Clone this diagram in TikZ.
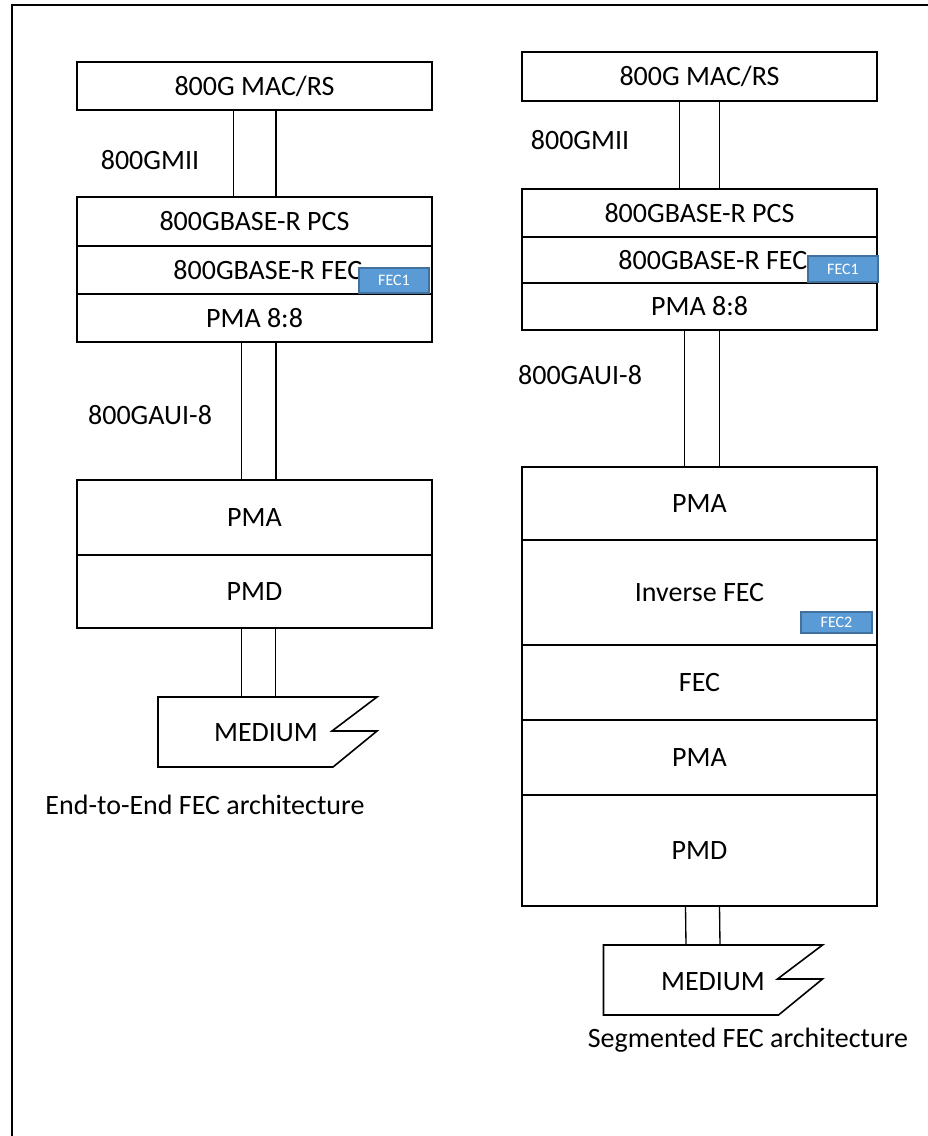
\documentclass[tikz,border=0pt]{standalone}
\usepackage{fontspec}
\setmainfont{Carlito}
\usetikzlibrary{positioning}
\definecolor{tagfill}{HTML}{5B9BD5}
\definecolor{tagborder}{HTML}{41719C}
\tikzset{
    layer/.style={rectangle, draw, line width=1.3pt, inner sep=0pt, outer sep=0pt, text centered, minimum width=266.25pt, font=\fontsize{21}{25}\selectfont},
    tag/.style={rectangle, draw=tagborder, line width=0.8pt, fill=tagfill, text=white, inner sep=0pt, outer sep=0pt, font=\fontsize{12}{14}\selectfont},
    link/.style={line width=1pt},
    labelstyle/.style={font=\fontsize{21}{25}\selectfont},
}
\begin{document}
\begin{tikzpicture}[x=0.75pt, y=-0.75pt]
    \useasboundingbox (0,0) rectangle (928,1136);
    \draw[line width=1.5pt] (928,5) -- (12,5) -- (12,1136);

    % end-to-end
    \node[layer, minimum height=36pt, anchor=north west] (macL) at (77,62) {800G MAC/RS};
    \node[layer, minimum height=36.75pt, anchor=north west] (pcsL) at (77,197) {800GBASE-R PCS};
    \node[layer, minimum height=36pt, below=0pt of pcsL] (fecL) {\hspace*{20pt}800GBASE-R FEC};
    \node[layer, minimum height=36pt, below=0pt of fecL] (pmaL) {PMA 8:8};
    \node[layer, minimum height=56.25pt, anchor=north west] (pmaLL) at (77,480) {PMA};
    \node[layer, minimum height=54.75pt, below=0pt of pmaLL] (pmdL) {PMD};
    \node[tag, minimum width=52.5pt, minimum height=18.75pt, anchor=south east] (fec1L) at (429,293) {FEC1};
    \coordinate (medL) at (254.5,697);
    \node[labelstyle] (mediumL) at (266,733) {MEDIUM};
    \draw[link, line width=1.2pt] (medL) ++(-96.5,0) -- ++(219,0) -- ++(-45,34) -- ++(45,0) -- ++(-44,36) -- ++(-175,0) -- cycle;

    \node[labelstyle] (miiL) at (150,160) {800GMII};
    \node[labelstyle] (auiL) at (150,415) {800GAUI-8};
    \node[labelstyle] (capL) at (205,805) {End-to-End FEC architecture};

    \foreach \dx in {-16pt,16pt}
        \draw[link] ([xshift=\dx]macL.south) -- ([xshift=\dx]pcsL.north);
    \foreach \dx in {-10pt,16pt}
        \draw[link] ([xshift=\dx]pmaL.south) -- ([xshift=\dx]pmaLL.north);
    \foreach \dx in {-10pt,15.5pt}
        \draw[link] ([xshift=\dx]pmdL.south) -- ([xshift=\dx]medL);

    % segmented
    \node[layer, minimum height=36.75pt, anchor=north west] (macR) at (522,52) {800G MAC/RS};
    \node[layer, minimum height=36pt, anchor=north west] (pcsR) at (522,189) {800GBASE-R PCS};
    \node[layer, minimum height=34.5pt, below=0pt of pcsR] (fecR) {\hspace*{20pt}800GBASE-R FEC};
    \node[layer, minimum height=35.25pt, below=0pt of fecR] (pmaR) {PMA 8:8};
    \node[layer, minimum height=54.75pt, anchor=north west] (pmaRa) at (522,467) {PMA};
    \node[layer, minimum height=78.75pt, below=0pt of pmaRa] (invR) {Inverse FEC};
    \node[layer, minimum height=56.25pt, below=0pt of invR] (fecRb) {FEC};
    \node[layer, minimum height=56.25pt, below=0pt of fecRb] (pmaRc) {PMA};
    \node[layer, minimum height=83.25pt, below=0pt of pmaRc] (pmdR) {PMD};
    \node[tag, minimum width=52.5pt, minimum height=19.5pt, anchor=south east] (fec1R) at (878,282) {FEC1};
    \node[tag, minimum width=53.25pt, minimum height=15.75pt, anchor=south east] (fec2R) at (872,633) {FEC2};
    \coordinate (medR) at (700,945);
    \node[labelstyle] (mediumR) at (713,982) {MEDIUM};
    \draw[link, line width=1.2pt] (medR) ++(-96.5,0) -- ++(219,0) -- ++(-45,34) -- ++(45,0) -- ++(-44,36) -- ++(-175,0) -- cycle;

    \node[labelstyle] (miiR) at (580,140) {800GMII};
    \node[labelstyle] (auiR) at (580,375) {800GAUI-8};
    \node[labelstyle] (capR) at (748,1040) {Segmented FEC architecture};

    \foreach \dx in {-15pt,15pt}
        \draw[link] ([xshift=\dx]macR.south) -- ([xshift=\dx]pcsR.north);
    \foreach \dx in {-11.25pt,15pt}
        \draw[link] ([xshift=\dx]pmaR.south) -- ([xshift=\dx]pmaRa.north);
    \foreach \dx in {-10.5pt,15pt}
        \draw[link] ([xshift=\dx]pmdR.south) -- ([xshift=\dx]medR);
\end{tikzpicture}
\end{document}
